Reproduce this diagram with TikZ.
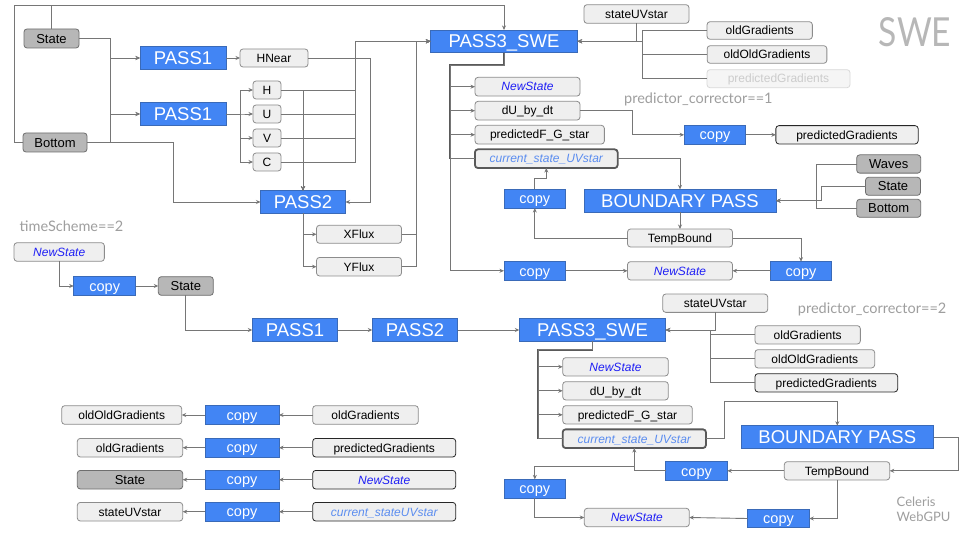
\documentclass[tikz,border=0pt]{standalone}
\usepackage{fontspec}
\setmainfont{Liberation Sans}
\newfontfamily\labfont{Lato}
\usetikzlibrary{arrows.meta}
\definecolor{gblue}{HTML}{4285F4}
\definecolor{bborder}{HTML}{3A6AB8}
\definecolor{lfill}{HTML}{EFEFEF}
\definecolor{lborder}{HTML}{8C8C8C}
\definecolor{gfill}{HTML}{B7B7B7}
\definecolor{gborder}{HTML}{6E6E6E}
\definecolor{ffill}{HTML}{F5F5F5}
\definecolor{fborder}{HTML}{D9D9D9}
\definecolor{ftext}{HTML}{CCCCCC}
\definecolor{cborder}{HTML}{595959}
\definecolor{nsblue}{HTML}{1F1FF5}
\definecolor{csblue}{HTML}{5B8DEF}
\definecolor{lcol}{HTML}{767676}
\definecolor{buscol}{HTML}{5A5A5A}
\definecolor{labcol}{HTML}{9E9E9E}
\tikzset{
  box/.style={inner sep=0pt, outer sep=0pt, font=\fontsize{12}{14}\selectfont, text=black, text height=8.6pt, text depth=0pt},
  lbox/.style={box, rounded corners=3pt, fill=lfill, draw=lborder, line width=0.8pt},
  kbox/.style={lbox, draw=black!85},
  gbox/.style={box, rounded corners=3pt, fill=gfill, draw=gborder, line width=0.8pt, font=\fontsize{13}{15}\selectfont, text height=9.3pt},
  bluebox/.style={box, fill=gblue, draw=bborder, line width=0.8pt, text=white, font=\fontsize{18.5}{20}\selectfont, text height=13.25pt},
  copybox/.style={bluebox, font=\fontsize{14.5}{16}\selectfont, text height=10.4pt},
  fadedbox/.style={lbox, fill=ffill, draw=fborder, text=ftext},
  curbox/.style={lbox, draw=cborder, line width=1.8pt},
  nstext/.style={text=nsblue, font=\fontsize{12}{14}\selectfont\itshape, text height=8.6pt},
  cstext/.style={text=csblue, font=\fontsize{12}{14}\selectfont\itshape, text height=8.6pt},
  sz/.style 2 args={minimum width=#1pt, minimum height=#2pt},
  conn/.style={draw=lcol, line width=0.9pt},
  arr/.style={conn, -{Stealth[length=4.5pt,width=4pt]}},
  busline/.style={draw=buscol, line width=1.8pt},
  lab/.style={inner sep=0pt, text=labcol, font=\labfont\fontsize{14.5}{16}\selectfont}
}
\begin{document}
\begin{tikzpicture}[x=1pt,y=-1pt]
\fill[white] (0,0) rectangle (960,540);
\useasboundingbox (0,0) rectangle (960,540);

% helper coordinates
\coordinate (ytop) at (0,5);
\coordinate (xL) at (14,0);
\coordinate (xb1) at (110,0);
\coordinate (x173) at (173,0);
\coordinate (x240) at (240,0);
\coordinate (x370) at (370,0);
\coordinate (x355) at (355.3,0);
\coordinate (x416) at (416,0);
\coordinate (x642) at (642.3,0);
\coordinate (busA) at (450,65);
\coordinate (x632) at (632.5,0);
\coordinate (y178) at (0,178.5);
\coordinate (x817) at (816.7,0);
\coordinate (x821) at (821,0);
\coordinate (x710) at (710,0);
\coordinate (busB) at (538.3,349.7);
\coordinate (x724) at (724,0);
\coordinate (y401) at (0,401.7);
\coordinate (x958) at (958.5,0);
\coordinate (y466) at (0,466.7);

% ---------- top section nodes ----------
\node[gbox, sz={55}{19}] (stateA) at (51.5,38.5) {State};
\node[gbox, sz={64}{19}] (bottomA) at (55,142.5) {Bottom};
\node[bluebox, sz={86}{22.5}] (p1a) at (183,58) {PASS1};
\node[bluebox, sz={86}{22.5}] (p1b) at (183,114) {PASS1};
\node[lbox, sz={68}{18}] (hnear) at (274,58) {HNear};
\node[lbox, sz={28}{18}] (h) at (267,90) {H};
\node[lbox, sz={28}{18}] (u) at (267,114) {U};
\node[lbox, sz={28}{18}] (v) at (267,138) {V};
\node[lbox, sz={28}{18}] (c) at (267,162) {C};
\node[bluebox, sz={85}{22.6}] (p2a) at (303,202) {PASS2};
\node[lbox, sz={85}{18}] (xflux) at (359,234.3) {XFlux};
\node[lbox, sz={85}{18.5}] (yflux) at (359,266.7) {YFlux};
\node[bluebox, sz={147}{22.7}] (p3a) at (504,41.3) {PASS3\_SWE};
\node[lbox, sz={105}{18.6}] (suvA) at (636.5,14) {stateUVstar};
\node[lbox, sz={105.3}{17.6}] (ogA) at (759.7,30.5) {oldGradients};
\node[lbox, sz={119.7}{17.6}] (oogA) at (767,54.5) {oldOldGradients};
\node[fadedbox, sz={143}{18}] (pgA) at (778.5,78.7) {predictedGradients};
\node[lab, anchor=west] (pc1) at (624,99) {predictor\_corrector==1};
\node[inner sep=0pt, text=gfill, font=\labfont\fontsize{40}{40}\selectfont] (swe) at (915,32.5) {\scalebox{0.84}[1]{SWE}};
\node[lbox, sz={105}{18.7}, nstext] (nsA) at (527.5,86.7) {NewState};
\node[lbox, sz={105}{18.7}] (dudtA) at (527.5,110.7) {dU\_by\_dt};
\node[lbox, sz={129.3}{18.7}] (pfgA) at (539.7,134.7) {predictedF\_G\_star};
\node[curbox, sz={142.7}{18.7}, cstext] (csA) at (546.3,158.7) {current\_state\_UVstar};
\node[copybox, sz={61.7}{18.7}] (copyA1) at (534.8,198.7) {copy};
\node[bluebox, sz={192}{22.7}] (bpA) at (680,200.7) {BOUNDARY PASS};
\node[copybox, sz={61.7}{18.3}] (copyA2) at (715,134.8) {copy};
\node[kbox, sz={142.3}{18.3}] (pgA2) at (847,134.8) {predictedGradients};
\node[gbox, sz={64}{18.3}] (wavesA) at (888.7,164) {Waves};
\node[gbox, sz={55}{18}] (stateR) at (893,186.3) {State};
\node[gbox, sz={64}{18}] (bottomR) at (888.7,208.3) {Bottom};
\node[lbox, sz={105}{18}] (tbA) at (680,238) {TempBound};
\node[lbox, sz={105}{18.3}, nstext] (nsA2) at (680,270.8) {NewState};
\node[copybox, sz={61}{18.3}] (copyA3) at (801,270.8) {copy};
\node[copybox, sz={61.7}{18.3}] (copyA4) at (534.8,270.8) {copy};

% ---------- top section connectors ----------
\draw[arr] (stateA.north) |- (p3a.north |- ytop) -- (p3a.north);
\draw[conn] (bottomA.west) -- (bottomA.west -| xL) |- (stateA.north |- ytop);
\draw[arr] (stateA.east) -- (stateA.east -| xb1) |- (p1a.west);
\draw[arr] (stateA.east) -- (stateA.east -| xb1) |- (p1b.west);
\draw[arr] (bottomA.east) -- (bottomA.east -| xb1) |- (p1a.west);
\draw[arr] (bottomA.east) -- (bottomA.east -| xb1) |- (p1b.west);
\draw[arr] (bottomA.east) -- (bottomA.east -| x173) |- (p2a.west);
\draw[arr] (p1a.east) -- (hnear.west);
\foreach \n in {h,u,v,c}{
  \draw[arr] (p1b.east) -- (p1b.east -| x240) |- (\n.west);
  \draw[arr] (\n.east) -| (p2a.north);
  \draw[arr] (\n.east) -- (\n.east -| x355) |- (p3a.west);
}
\draw[arr] (hnear.east) -- (hnear.east -| x370) |- (p2a.east);
\draw[arr] (p2a.south) |- (xflux.west);
\draw[arr] (p2a.south) |- (yflux.west);
\draw[arr] (xflux.east) -- (xflux.east -| x416) |- (p3a.west);
\draw[arr] (yflux.east) -- (yflux.east -| x416) |- (p3a.west);
\draw[arr] (suvA.south) |- (p3a.east);
\foreach \n in {ogA,oogA,pgA}{
  \draw[arr] (\n.west) -- (\n.west -| x642) |- (p3a.east);
}
\draw[busline] (p3a.south) |- (busA) -- (busA |- csA.west);
\draw[arr] (p3a.south) |- (busA) |- (nsA.west);
\draw[arr] (p3a.south) |- (busA) |- (dudtA.west);
\draw[arr] (p3a.south) |- (busA) |- (pfgA.west);
\draw[conn] (p3a.south) |- (busA) |- (csA.west);
\draw[arr] (p3a.south) |- (busA) |- (copyA4.west);
\draw[arr] (dudtA.east) -- (dudtA.east -| x632) |- (copyA2.west);
\draw[arr] (copyA2.east) -- (pgA2.west);
\draw[arr] (csA.east) -| (bpA.north);
\draw[arr] (bpA.south) -- (tbA.north);
\draw[arr] (tbA.west) -| (copyA1.south);
\draw[arr] (copyA1.north) |- (csA.south |- y178) -- (csA.south);
\draw[arr] (tbA.east) -| (copyA3.north);
\draw[arr] (copyA3.west) -- (nsA2.east);
\draw[arr] (copyA4.east) -- (nsA2.west);
\draw[arr] (wavesA.west) -- (wavesA.west -| x817) |- (bpA.east);
\draw[arr] (bottomR.west) -- (bottomR.west -| x817) |- (bpA.east);
\draw[arr] (stateR.west) -- (stateR.west -| x821) |- (bpA.east);

% ---------- bottom section nodes ----------
\node[lab] (ts2) at (71.5,226.5) {timeScheme==2};
\node[lbox, sz={90.3}{18.6}, nstext] (nsB) at (59.2,252) {NewState};
\node[copybox, sz={62}{18.6}] (copyB1) at (104.7,286) {copy};
\node[gbox, sz={55}{18.6}] (stateB) at (185.8,286) {State};
\node[bluebox, sz={85.4}{22.6}] (p1B) at (295,330) {PASS1};
\node[bluebox, sz={85.4}{22.6}] (p2B) at (415,330) {PASS2};
\node[bluebox, sz={146.4}{22.6}] (p3B) at (592.5,330) {PASS3\_SWE};
\node[lbox, sz={105}{18.3}] (suvB) at (715.2,303.2) {stateUVstar};
\node[lab, anchor=west] (pc2) at (797.7,309.5) {predictor\_corrector==2};
\node[lbox, sz={105.3}{18.3}] (ogB) at (807.7,334.8) {oldGradients};
\node[lbox, sz={119.7}{18.3}] (oogB) at (814.8,358.8) {oldOldGradients};
\node[kbox, sz={142.7}{18.3}] (pgB) at (826.3,382.8) {predictedGradients};
\node[lbox, sz={105.6}{18.3}, nstext] (nsB2) at (615.5,366.8) {NewState};
\node[lbox, sz={105.6}{18.3}] (dudtB) at (615.5,390.8) {dU\_by\_dt};
\node[lbox, sz={129.6}{18.3}] (pfgB) at (627.5,414.8) {predictedF\_G\_star};
\node[curbox, sz={143.3}{18.7}, cstext] (csB) at (634.3,438.7) {current\_state\_UVstar};
\node[bluebox, sz={192.7}{22.6}] (bpB) at (837.3,437) {BOUNDARY PASS};
\node[lbox, sz={105.4}{18.3}] (tbB) at (837,470.8) {TempBound};
\node[copybox, sz={61.6}{18.6}] (copyB2) at (696.5,470.8) {copy};
\node[copybox, sz={61.7}{18.7}] (copyB3) at (534.8,488.7) {copy};
\node[lbox, sz={105}{18.4}, nstext] (nsB3) at (636.8,517.5) {NewState};
\node[copybox, sz={61.6}{18.3}] (copyB4) at (778.5,518.5) {copy};
\node[lab, anchor=north west, align=left, font=\labfont\fontsize{13}{14.5}\selectfont] (celeris) at (896.5,497) {Celeris\\WebGPU};

% copy rows
\node[lbox, sz={120}{18.6}] (r1L) at (121.7,415) {oldOldGradients};
\node[copybox, sz={74}{18.6}] (r1C) at (242,415) {copy};
\node[lbox, sz={105.6}{18.6}] (r1R) at (365.5,415) {oldGradients};
\node[lbox, sz={105.4}{18.6}] (r2L) at (130,447.7) {oldGradients};
\node[copybox, sz={74}{18.6}] (r2C) at (242,447.7) {copy};
\node[kbox, sz={143}{18.6}] (r2R) at (384.2,447.7) {predictedGradients};
\node[gbox, sz={105.4}{18.6}] (r3L) at (130,479.7) {State};
\node[copybox, sz={74}{18.6}] (r3C) at (242,479.7) {copy};
\node[kbox, sz={143}{18.6}, nstext] (r3R) at (384.2,479.7) {NewState};
\node[lbox, sz={105.4}{18.6}] (r4L) at (130,511.7) {stateUVstar};
\node[copybox, sz={74}{18.6}] (r4C) at (242,511.7) {copy};
\node[kbox, sz={143}{18.6}, cstext] (r4R) at (384.2,511.7) {current\_stateUVstar};

% ---------- bottom section connectors ----------
\draw[arr] (nsB.south) |- (copyB1.west);
\draw[arr] (copyB1.east) -- (stateB.west);
\draw[arr] (stateB.south) |- (p1B.west);
\draw[arr] (p1B.east) -- (p2B.west);
\draw[arr] (p2B.east) -- (p3B.west);
\draw[arr] (suvB.south) |- (p3B.east);
\foreach \n in {ogB,oogB,pgB}{
  \draw[arr] (\n.west) -- (\n.west -| x710) |- (p3B.east);
}
\draw[busline] (p3B.south) |- (busB) -- (busB |- csB.west);
\draw[arr] (p3B.south) |- (busB) |- (nsB2.west);
\draw[arr] (p3B.south) |- (busB) |- (dudtB.west);
\draw[arr] (p3B.south) |- (busB) |- (pfgB.west);
\draw[conn] (p3B.south) |- (busB) |- (csB.west);
\draw[arr] (csB.east) -- (csB.east -| x724) |- (bpB.north |- y401) -- (bpB.north);
\draw[arr] (bpB.east) -- (bpB.east -| x958) |- (tbB.east);
\draw[arr] (tbB.west) -- (copyB2.east);
\draw[arr] (copyB2.west) -| (csB.south);
\draw[arr] (csB.south) -- (csB.south |- y466) -| (copyB3.north);
\draw[arr] (copyB3.south) |- (nsB3.west);
\draw[arr] (tbB.south) |- (copyB4.east);
\draw[arr] (copyB4.west) -- (nsB3.east);
\foreach \i in {1,2,3,4}{
  \draw[arr] (r\i R.west) -- (r\i C.east);
  \draw[arr] (r\i C.west) -- (r\i L.east);
}
\end{tikzpicture}
\end{document}
